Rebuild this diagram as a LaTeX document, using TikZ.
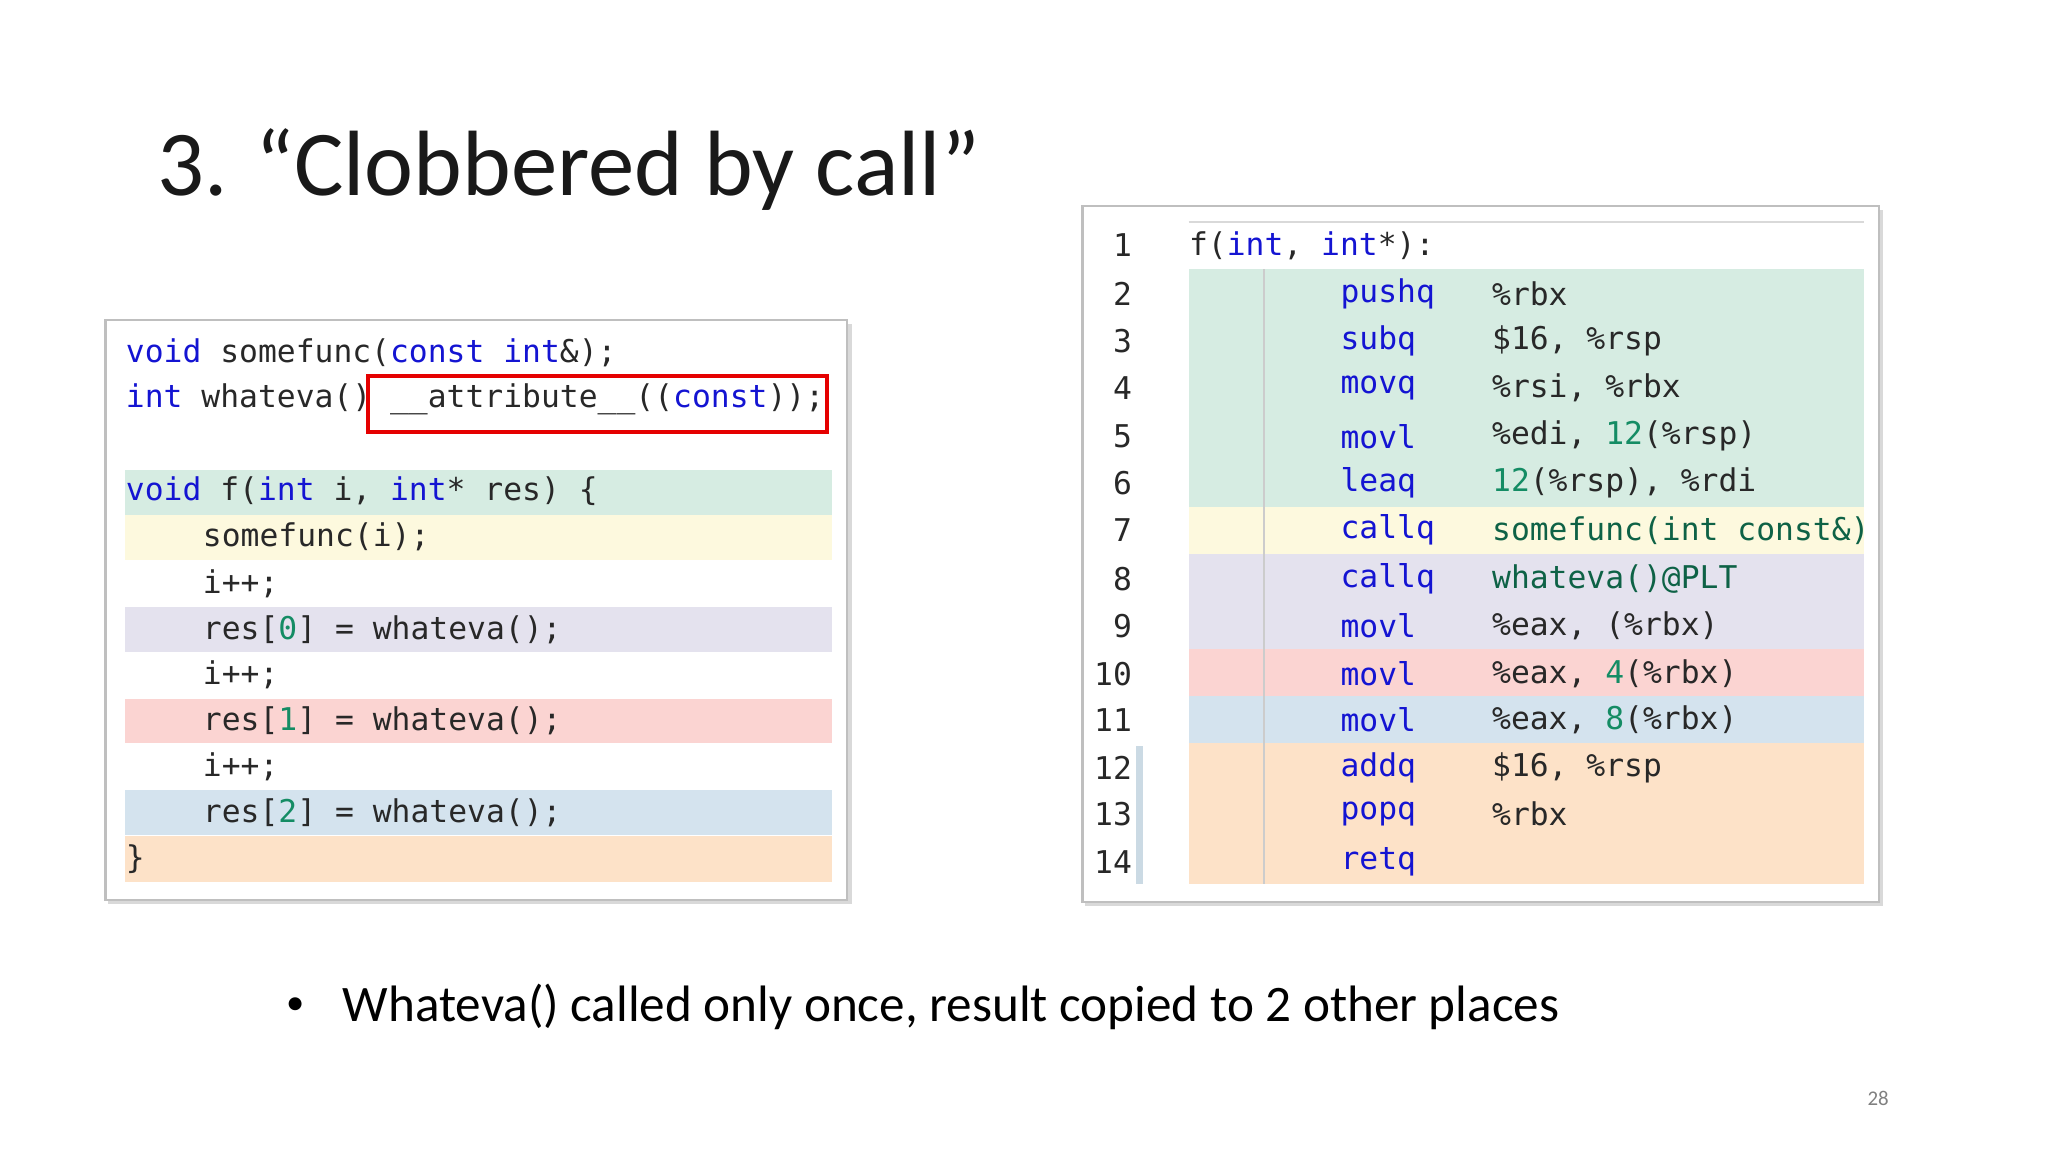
\documentclass[tikz,border=0pt]{standalone}
\usepackage{fontspec}
\setmainfont{Carlito}
\setmonofont{DejaVu Sans Mono}
\definecolor{kw}{RGB}{20,20,210}
\definecolor{num}{RGB}{20,140,100}
\definecolor{bgreen}{RGB}{214,236,226}
\definecolor{byellow}{RGB}{253,249,222}
\definecolor{blav}{RGB}{228,226,238}
\definecolor{bred}{RGB}{251,212,210}
\definecolor{bblue}{RGB}{212,227,238}
\definecolor{borange}{RGB}{253,226,200}
\definecolor{txt}{RGB}{40,40,40}
\newcommand{\kwd}[1]{\textcolor{kw}{#1}}
\newcommand{\nmb}[1]{\textcolor{num}{#1}}
\begin{document}
\begin{tikzpicture}[x=0.5pt,y=-0.5pt,
  code/.style={anchor=west,inner sep=0pt,font=\fontsize{12}{14}\ttfamily,text=txt},
  lnum/.style={anchor=east,inner sep=0pt,font=\fontsize{12}{14}\ttfamily,text=txt},
  panel/.style={draw=black!25,fill=white,line width=0.8pt}]
\useasboundingbox (0,0) rectangle (1568,882);
\node[anchor=west,inner sep=0pt,font=\fontsize{35.5}{40}\selectfont,text=black!90] (title) at (120,130) {3. “Clobbered by call”};
% left panel
\fill[black!15] (83,248) rectangle (652,692);
\node[panel,minimum width=568*0.5pt,minimum height=444*0.5pt,anchor=north west] (lp) at (80,244) {};
\fill[bgreen] (96,360) rectangle (637,394);
\fill[byellow] (96,394) rectangle (637,429);
\fill[blav] (96,465) rectangle (637,499);
\fill[bred] (96,535) rectangle (637,569);
\fill[bblue] (96,605) rectangle (637,639);
\fill[borange] (96,640) rectangle (637,675);
\node[code] (l1) at (96,270) {\kwd{void} somefunc(\kwd{const} \kwd{int}\&);};
\node[code] (l2) at (96,306) {\kwd{int} whateva() \_\_attribute\_\_((\kwd{const}));};
\draw[red!90!black,line width=1.5pt] (282,288) rectangle (633,331);
\node[code] (l3) at (96,376) {\kwd{void} f(\kwd{int} i, \kwd{int}* res) \{};
\node[code] (l4) at (155,411) {somefunc(i);};
\node[code] (l5) at (155,447) {i++;};
\node[code] (l6) at (155,482) {res[\nmb{0}] = whateva();};
\node[code] (l7) at (155,517) {i++;};
\node[code] (l8) at (155,552) {res[\nmb{1}] = whateva();};
\node[code] (l9) at (155,587) {i++;};
\node[code] (l10) at (155,622) {res[\nmb{2}] = whateva();};
\node[code] (l11) at (96,658) {\}};
% right panel
\fill[black!15] (831,161) rectangle (1442,694);
\node[panel,minimum width=610*0.5pt,minimum height=533*0.5pt,anchor=north west] (rp) at (828,157) {};
\draw[black!15,line width=1pt] (910,170) -- (1427,170);
\fill[bgreen] (910,206) rectangle (1427,388);
\fill[byellow] (910,388) rectangle (1427,424);
\fill[blav] (910,424) rectangle (1427,497);
\fill[bred] (910,497) rectangle (1427,533);
\fill[bblue] (910,533) rectangle (1427,569);
\fill[borange] (910,569) rectangle (1427,677);
\draw[black!20,line width=0.8pt] (968,206) -- (968,677);
\fill[bblue!90!black!40!bblue] (870,571) rectangle (875,677);
\foreach \n/\y in {1/188,2/225,3/261,4/297,5/334,6/370,7/406,8/443,9/479,10/516,11/551,12/588,13/623,14/660}
  \node[lnum] (n\n) at (867,\y) {\n};
\node[code] (r1) at (910,188) {f(\kwd{int}, \kwd{int}*):};
\node[code] (m2) at (1026,225) {\kwd{pushq}}; \node[code] (o2) at (1142,225) {\%rbx};
\node[code] (m3) at (1026,261) {\kwd{subq}}; \node[code] (o3) at (1142,261) {\$16, \%rsp};
\node[code] (m4) at (1026,297) {\kwd{movq}}; \node[code] (o4) at (1142,297) {\%rsi, \%rbx};
\node[code] (m5) at (1026,334) {\kwd{movl}}; \node[code] (o5) at (1142,334) {\%edi, \nmb{12}(\%rsp)};
\node[code] (m6) at (1026,370) {\kwd{leaq}}; \node[code] (o6) at (1142,370) {\nmb{12}(\%rsp), \%rdi};
\node[code] (m7) at (1026,406) {\kwd{callq}}; \node[code] (o7) at (1142,406) {\textcolor{num!70!black}{somefunc(int const\&)}};
\node[code] (m8) at (1026,443) {\kwd{callq}}; \node[code] (o8) at (1142,443) {\textcolor{num!70!black}{whateva()@PLT}};
\node[code] (m9) at (1026,479) {\kwd{movl}}; \node[code] (o9) at (1142,479) {\%eax, (\%rbx)};
\node[code] (m10) at (1026,516) {\kwd{movl}}; \node[code] (o10) at (1142,516) {\%eax, \nmb{4}(\%rbx)};
\node[code] (m11) at (1026,551) {\kwd{movl}}; \node[code] (o11) at (1142,551) {\%eax, \nmb{8}(\%rbx)};
\node[code] (m12) at (1026,588) {\kwd{addq}}; \node[code] (o12) at (1142,588) {\$16, \%rsp};
\node[code] (m13) at (1026,623) {\kwd{popq}}; \node[code] (o13) at (1142,623) {\%rbx};
\node[code] (m14) at (1026,660) {\kwd{retq}};
% bullet
\node[anchor=center,inner sep=0pt,font=\fontsize{14}{16}\selectfont] (bul) at (226,770) {•};
\node[anchor=west,inner sep=0pt,font=\fontsize{19.6}{22}\selectfont] (btxt) at (262,771) {Whateva() called only once, result copied to 2 other places};
\node[inner sep=0pt,font=\fontsize{8}{10}\selectfont,text=black!50] (pg) at (1438,841) {28};
\end{tikzpicture}
\end{document}
